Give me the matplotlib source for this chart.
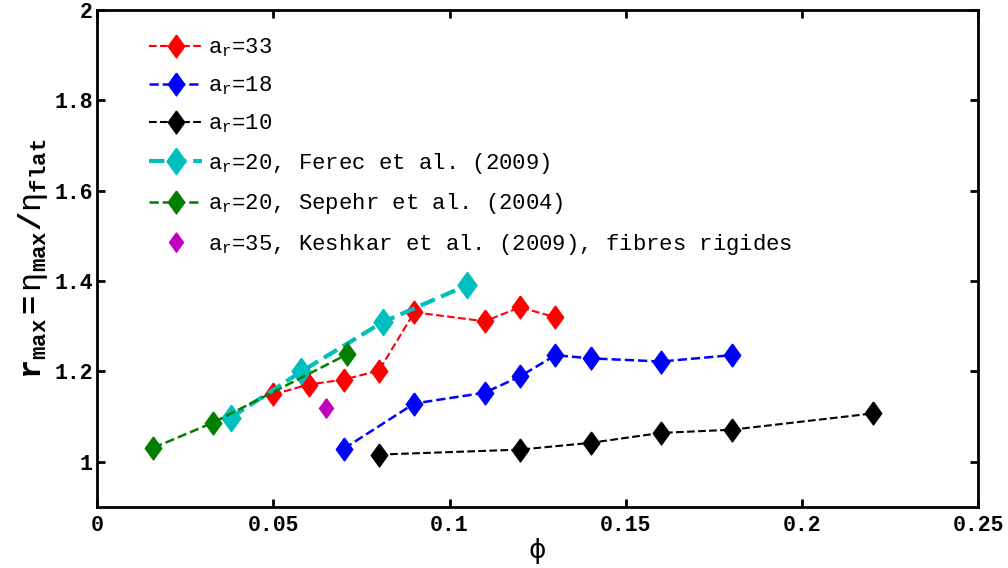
import matplotlib
matplotlib.use("Agg")
from matplotlib import pyplot as plt

plt.rcParams['font.family'] = ['Liberation Mono', 'DejaVu Sans']
plt.rcParams['mathtext.fontset'] = 'custom'
plt.rcParams['mathtext.rm'] = 'Liberation Mono'
plt.rcParams['mathtext.it'] = 'Liberation Mono'
plt.rcParams['mathtext.bf'] = 'Liberation Mono:bold'
plt.rcParams['mathtext.default'] = 'rm'

# a_r = 33
phi_33 = [0.05, 0.06, 0.07, 0.08, 0.09, 0.11, 0.12, 0.13]
r_33 = [1.149, 1.171, 1.182, 1.202, 1.331, 1.311, 1.342, 1.320]
# a_r = 18
phi_18 = [0.07, 0.09, 0.11, 0.12, 0.13, 0.14, 0.16, 0.18]
r_18 = [1.029, 1.129, 1.153, 1.189, 1.236, 1.229, 1.222, 1.236]
# a_r = 10
phi_10 = [0.08, 0.12, 0.14, 0.16, 0.18, 0.22]
r_10 = [1.016, 1.027, 1.042, 1.064, 1.071, 1.107]
# Ferec et al. (2009)
phi_ferec = [0.038, 0.058, 0.081, 0.105]
r_ferec = [1.098, 1.200, 1.309, 1.391]
# Sepehr et al. (2004)
phi_sepehr = [0.016, 0.033, 0.071]
r_sepehr = [1.031, 1.087, 1.238]
# Keshkar et al. (2009)
phi_keshkar = [0.065]
r_keshkar = [1.120]

# diamond a bit taller than wide (matlab style)
losange = [(0, 1), (0.72, 0), (0, -1), (-0.72, 0), (0, 1)]

fig = plt.figure(figsize=(10.08, 5.68), dpi=100)
ax = fig.add_axes([0.0962, 0.1074, 0.8744, 0.875])

ms = 16.5
ax.plot(phi_33, r_33, '--', marker=losange, color='red', ms=ms, lw=1.5,
        label='a$_r$=33')
ax.plot(phi_18, r_18, '--', marker=losange, color='blue', ms=ms, lw=1.8,
        label='a$_r$=18')
ax.plot(phi_10, r_10, '--', marker=losange, color='black', ms=ms, lw=1.5,
        label='a$_r$=10')
ax.plot(phi_ferec, r_ferec, '--', marker=losange, color='#00bfbf', ms=19, lw=3,
        label='a$_r$=20, Ferec et al. (2009)')
ax.plot(phi_sepehr, r_sepehr, '--', marker=losange, color='#007f00', ms=ms, lw=1.8,
        label='a$_r$=20, Sepehr et al. (2004)')
ax.plot(phi_keshkar, r_keshkar, ls='none', marker=losange, color='#bf00bf', ms=14,
        label='a$_r$=35, Keshkar et al. (2009), fibres rigides')

ax.set_xlim(0, 0.25)
ax.set_ylim(0.9, 2)
ax.set_xticks([0, 0.05, 0.1, 0.15, 0.2, 0.25])
ax.set_xticklabels(['0', '0.05', '0.1', '0.15', '0.2', '0.25'])
ax.set_yticks([1, 1.2, 1.4, 1.6, 1.8, 2])
ax.set_yticklabels(['1', '1.2', '1.4', '1.6', '1.8', '2'])
ax.tick_params(direction='in', top=True, right=True, width=2, length=6,
               labelsize=15.5)
ax.tick_params(axis='x', pad=6)
ax.tick_params(axis='y', pad=3)
for lab in ax.get_xticklabels() + ax.get_yticklabels():
    lab.set_fontweight('bold')
for s in ax.spines.values():
    s.set_linewidth(2)

ax.set_xlabel('ϕ', fontsize=19, family='DejaVu Sans', labelpad=1)
ax.set_ylabel(r'$\mathbf{r_{max}}$$\mathbf{=}$$\eta_\mathbf{max}$$\mathbf{/}$$\eta_\mathbf{flat}$',
              fontsize=23, labelpad=3)

leg = ax.legend(loc='upper left', frameon=False, fontsize=16,
                bbox_to_anchor=(0.059, 0.947), borderaxespad=0, borderpad=0,
                handlelength=2.4, handletextpad=0.25, labelspacing=0.7)

plt.savefig('out.png', dpi=100)
